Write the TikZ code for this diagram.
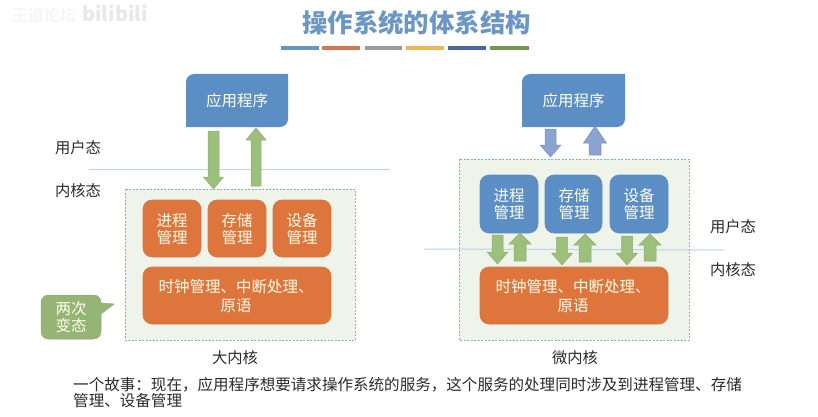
\documentclass[tikz,border=0pt]{standalone}
\usepackage{fontspec}
\setmainfont{Noto Sans CJK SC}
\definecolor{cblue}{HTML}{5B8EC4}
\definecolor{corange}{HTML}{DD753C}
\definecolor{cgreen}{HTML}{9DBF7C}
\definecolor{cgreenedge}{HTML}{8CAD74}
\definecolor{cperi}{HTML}{8BA3D0}
\definecolor{cpanel}{HTML}{EFF4EB}
\definecolor{cpaneledge}{HTML}{8FB0AE}
\definecolor{cline}{HTML}{BBD3E6}
\definecolor{ctitle}{HTML}{6A97C4}
\definecolor{ctext}{HTML}{2B2B2B}
\tikzset{
  x=1pt,y=-1pt,
  panel/.style={draw=cpaneledge,fill=cpanel,dash pattern=on 2pt off 1.5pt,line width=.7pt},
  tile/.style={rounded corners=9pt,draw=#1!90!gray,line width=.6pt,fill=#1},
  label/.style={font=\fontsize{15.3}{18}\selectfont,text=ctext,inner sep=0pt,align=center},
  tiletext/.style={font=\fontsize{15.5}{17.5}\selectfont,text=white!92!yellow,inner sep=0pt,align=center},
  coretext/.style={font=\fontsize{15.5}{18.5}\selectfont,text=white!92!yellow,inner sep=0pt,align=center},
  storytext/.style={font=\fontsize{15.55}{16}\selectfont,text=ctext,inner sep=0pt,anchor=west},
  rule/.style={draw=cline,line width=1pt},
  blockgreen/.style={fill=cgreen,draw=cgreenedge,line width=.5pt},
  blockperi/.style={fill=cperi,draw=cperi!90!black,line width=.5pt},
}
% block arrow: style, centre x, tail y, tip y, half shaft, half head, head length
\newcommand{\blockarrow}[7]{%
  \pgfmathsetmacro{\hb}{#4<#3 ? #4+#7 : #4-#7}%
  \path[#1] ({#2-#5},#3) -- ({#2-#5},\hb) -- ({#2-#6},\hb) -- (#2,#4) -- ({#2+#6},\hb) -- ({#2+#5},\hb) -- ({#2+#5},#3) -- cycle;}
% application box with two rounded opposite corners
\newcommand{\appbox}[5]{%
  \fill[cblue] (#1,{#2+8}) .. controls (#1,{#2+3.6}) and ({#1+3.6},#2) .. ({#1+8},#2) -- (#3,#2) -- (#3,{#4-8}) .. controls (#3,{#4-3.6}) and ({#3-3.6},#4) .. ({#3-8},#4) -- (#1,#4) -- cycle;
  \node[coretext] (#5) at ({(#1+#3)/2},{(#2+#4)/2}) {应用程序};}
\begin{document}
\begin{tikzpicture}
\useasboundingbox (0,0) rectangle (818,417);
\fill[white] (0,0) rectangle (818,417);
% watermark
\node[font=\fontsize{16}{18}\selectfont,text=black!5,inner sep=0pt] (wm1) at (44,15) {王道论坛};
\node[font=\bfseries\fontsize{20}{22}\selectfont,text=black!9,inner sep=0pt] (wm2) at (115,13) {bilibili};
% title
\node[font=\bfseries\fontsize{25.4}{28}\selectfont,text=ctitle,inner sep=0pt] (title) at (416.5,23) {操作系统的体系结构};
\foreach \a/\b/\c in {281/319/6693BF,322/360/D0794E,365/402/9A9A9A,406/444/EDB556,448/486/46689F,490/529/6F9C50}{
  \definecolor{tmpc}{HTML}{\c}
  \fill[tmpc] (\a,46) rectangle (\b,50.5);
}
% rules behind
\draw[rule] (89,169) -- (390,169);
% left side
\appbox{186}{74}{288}{127}{appL}
\node[label] (userL) at (78,148) {用户态};
\node[label] (kernL) at (78,191) {内核态};
\draw[panel] (125,189) rectangle (355,340);
\blockarrow{blockgreen}{213.5}{131}{189}{5.5}{10}{12}
\blockarrow{blockgreen}{256}{186}{128}{5}{10}{12}
\path[tile=corange] (143,200) rectangle (201,257);
\node[tiletext] (procL) at (172,229) {进程\\管理};
\path[tile=corange] (208,200) rectangle (266,257);
\node[tiletext] (memL) at (237,229) {存储\\管理};
\path[tile=corange] (273,200) rectangle (331,257);
\node[tiletext] (devL) at (302,229) {设备\\管理};
\path[tile=corange] (143,267) rectangle (331,324);
\node[coretext] (coreL) at (236,296) {时钟管理、中断处理、\\原语};
% callout
\path[fill=cgreen!95!black,draw=cgreenedge,line width=.5pt,line join=round]
  (49,295) -- (93,295) .. controls (98,295) and (101,298) .. (101,303) -- (114,304) -- (101,314) -- (101,331)
  .. controls (101,336) and (98,339) .. (93,339) -- (49,339)
  .. controls (44,339) and (41,336) .. (41,331) -- (41,303)
  .. controls (41,298) and (44,295) .. (49,295) -- cycle;
\node[tiletext] (twice) at (71,317) {两次\\变态};
\node[label] (bigk) at (235,358) {大内核};
% right side
\appbox{522}{74}{625}{127}{appR}
\blockarrow{blockperi}{550.5}{129}{157}{5.5}{10.5}{12}
\blockarrow{blockperi}{595}{155}{126}{6}{11.5}{17}
\draw[panel] (459,159) rectangle (689,340);
\draw[draw=cline,line width=1pt] (424,249) -- (724,250);
\path[tile=cblue] (480,175) rectangle (538,233);
\node[tiletext] (procR) at (509,204) {进程\\管理};
\path[tile=cblue] (545,175) rectangle (602,233);
\node[tiletext] (memR) at (574,204) {存储\\管理};
\path[tile=cblue] (610,175) rectangle (668,233);
\node[tiletext] (devR) at (639,204) {设备\\管理};
\path[tile=corange] (480,267) rectangle (668,324);
\node[coretext] (coreR) at (573,296) {时钟管理、中断处理、\\原语};
\blockarrow{blockgreen}{497.5}{235}{264}{5.5}{10.5}{12}
\blockarrow{blockgreen}{520}{261}{233}{6}{11}{11}
\blockarrow{blockgreen}{562}{237}{265}{5.5}{10.5}{12}
\blockarrow{blockgreen}{585}{262}{234}{6}{11}{11}
\blockarrow{blockgreen}{627}{236}{265}{5.5}{10.5}{12}
\blockarrow{blockgreen}{650}{261}{234}{6}{11}{11}
\node[label] (userR) at (733,227) {用户态};
\node[label] (kernR) at (733,270) {内核态};
\node[label] (microk) at (575,358) {微内核};
% bottom text
\node[storytext] (story1) at (73,385) {一个故事：现在，应用程序想要请求操作系统的服务，这个服务的处理同时涉及到进程管理、存储};
\node[storytext] (story2) at (73,401) {管理、设备管理};
\end{tikzpicture}
\end{document}
